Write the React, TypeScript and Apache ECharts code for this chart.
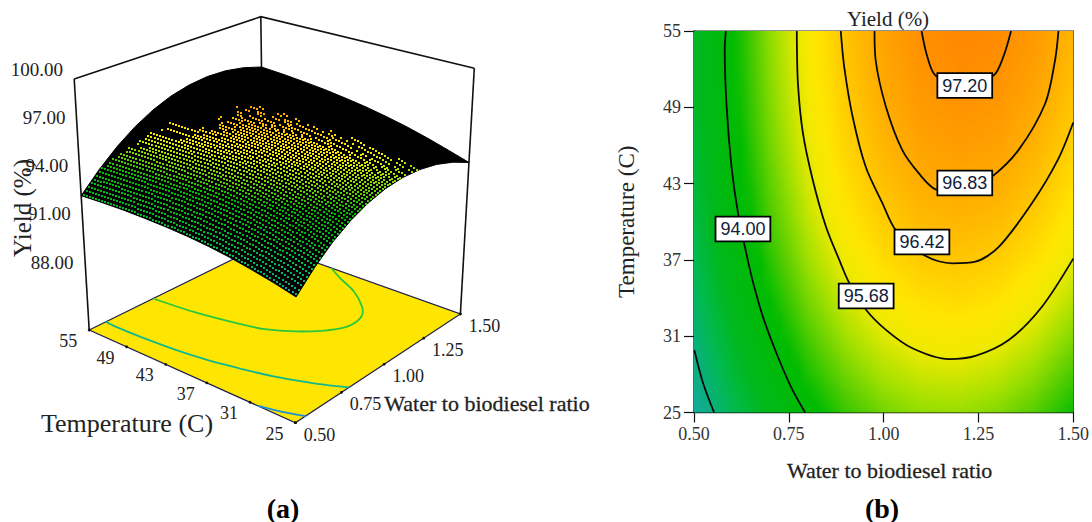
import React, { useEffect, useRef } from "react";
import * as echarts from "echarts";

// ---------- values ----------
const ratioNodes = [0.5, 0.6, 0.7, 0.8, 0.9, 1.0, 1.1, 1.2, 1.3, 1.4, 1.5];
const tempNodes = [25, 28, 31, 34, 37, 40, 43, 46, 49, 52, 55];
const yieldT25 = [91.42, 92.45, 93.32, 94.01, 94.54, 94.91, 95.11, 95.14, 95.01, 94.71, 94.25];
const yieldT28 = [91.74, 92.78, 93.65, 94.35, 94.89, 95.27, 95.47, 95.51, 95.39, 95.10, 94.64];
const yieldT31 = [92.02, 93.07, 93.95, 94.66, 95.21, 95.59, 95.81, 95.86, 95.74, 95.46, 95.01];
const yieldT34 = [92.28, 93.33, 94.22, 94.94, 95.50, 95.89, 96.11, 96.17, 96.06, 95.79, 95.35];
const yieldT37 = [92.49, 93.55, 94.45, 95.18, 95.74, 96.14, 96.37, 96.44, 96.34, 96.07, 95.64];
const yieldT40 = [92.66, 93.73, 94.64, 95.38, 95.95, 96.35, 96.60, 96.67, 96.58, 96.32, 95.90];
const yieldT43 = [92.79, 93.87, 94.78, 95.53, 96.11, 96.53, 96.78, 96.86, 96.78, 96.53, 96.11];
const yieldT46 = [92.89, 93.98, 94.90, 95.66, 96.25, 96.67, 96.93, 97.02, 96.95, 96.70, 96.30];
const yieldT49 = [92.97, 94.06, 94.99, 95.75, 96.35, 96.78, 97.05, 97.15, 97.08, 96.85, 96.45];
const yieldT52 = [93.01, 94.11, 95.05, 95.82, 96.43, 96.87, 97.14, 97.25, 97.19, 96.97, 96.58];
const yieldT55 = [93.03, 94.14, 95.09, 95.87, 96.48, 96.93, 97.21, 97.33, 97.28, 97.06, 96.68];
const yieldRows = [yieldT25, yieldT28, yieldT31, yieldT34, yieldT37, yieldT40, yieldT43, yieldT46, yieldT49, yieldT52, yieldT55];

const contour92 = [[0.501, 29.9], [0.524, 27.3], [0.553, 25]];
const contour94 = [[0.584, 55], [0.581, 53.6], [0.586, 49.05], [0.599, 44.3], [0.616, 40.7], [0.638, 37.5], [0.656, 35.2], [0.682, 32.5], [0.717, 29.7], [0.756, 27.0], [0.793, 25]];
const contour9568 = [[0.771, 55], [0.774, 50.9], [0.787, 47], [0.813, 43.3], [0.848, 39.6], [0.883, 37.0], [0.909, 35.2], [0.953, 33.1], [1.006, 31.5], [1.076, 30.05], [1.172, 29.2], [1.242, 29.45], [1.33, 30.7], [1.417, 33.3], [1.5, 37.1]];
const contour9642 = [[0.887, 55], [0.896, 52.2], [0.918, 48.3], [0.953, 44.3], [0.997, 41.45], [1.032, 39.35], [1.111, 37.3], [1.181, 36.73], [1.242, 36.86], [1.303, 38.0], [1.391, 41.45], [1.46, 44.9], [1.5, 47.8]];
const contour9683 = [[0.976, 55], [0.979, 52.7], [1.006, 49.05], [1.049, 45.65], [1.093, 43.8], [1.137, 42.55], [1.214, 42.3], [1.286, 43.55], [1.356, 45.65], [1.426, 49.3], [1.452, 52.7], [1.461, 55]];
const contour9720 = [[1.1, 55], [1.115, 53], [1.137, 51.5], [1.214, 50.7], [1.29, 51.5], [1.316, 53], [1.336, 55]];
const floorContourUpper = [[0.835, 55], [0.855, 49], [0.895, 43], [0.925, 40], [0.985, 37], [1.06, 34.6], [1.12, 33.4], [1.18, 33.1], [1.25, 33.6], [1.31, 35], [1.39, 38], [1.45, 41.5], [1.5, 44]];
const contourLabels = [[1.214, 50.71, "97.20"], [1.214, 43.05, "96.83"], [1.101, 38.41, "96.42"], [0.954, 34.16, "95.68"], [0.629, 39.43, "94.00"]];

const ratioTicks = [0.5, 0.75, 1.0, 1.25, 1.5];
const tempTicks = [25, 31, 37, 43, 49, 55];
const yieldTicks = ["100.00", "97.00", "94.00", "91.00", "88.00"];

// colour scale of the yield
const scaleValues = [91.4, 92, 92.5, 93.2, 94.2, 94.7, 95.2, 95.7, 96.0, 96.42, 96.83, 97.2, 97.4];
const scaleColors = ["#16a9a0", "#08b078", "#00ba50", "#00b81c", "#00bb00", "#50cc00", "#a0e000", "#f0ea00", "#ffe600", "#ffc800", "#ffaa00", "#ff9000", "#ff8200"];

// ---------- layout of the 3D box (pixels) ----------
const FONT = '"Liberation Serif", serif';
const floorCorners = [[89.2, 330], [264, 244], [460.4, 314], [295.4, 422.7]];
const topCorners = [[74.2, 79], [260.8, 16.7], [474.3, 68.3], [297, 129]];
const Z_MIN = 85;
const Z_MAX = 100;
const MESH = 7;

const rgb = (h: string) => [1, 3, 5].map((i) => parseInt(h.slice(i, i + 2), 16));
function colourOf(v: number) {
  let i = 0;
  if (v <= scaleValues[0]) return scaleColors[0];
  if (v >= scaleValues[scaleValues.length - 1]) return scaleColors[scaleColors.length - 1];
  while (v > scaleValues[i + 1]) i++;
  const f = (v - scaleValues[i]) / (scaleValues[i + 1] - scaleValues[i]);
  const a = rgb(scaleColors[i]);
  const b = rgb(scaleColors[i + 1]);
  return `rgb(${a.map((c, k) => Math.round(c + (b[k] - c) * f)).join(",")})`;
}

// shading between the table's nodes
function yieldAt(r: number, t: number) {
  const lastX = ratioNodes.length - 1;
  const lastT = tempNodes.length - 1;
  const fx = Math.min(Math.max((r - ratioNodes[0]) / 0.1, 0), lastX);
  const ft = Math.min(Math.max((t - tempNodes[0]) / 3, 0), lastT);
  const i = Math.min(Math.floor(fx), lastX - 1);
  const j = Math.min(Math.floor(ft), lastT - 1);
  const dx = fx - i;
  const dt = ft - j;
  const lo = yieldRows[j][i] * (1 - dx) + yieldRows[j][i + 1] * dx;
  const hi = yieldRows[j + 1][i] * (1 - dx) + yieldRows[j + 1][i + 1] * dx;
  return lo * (1 - dt) + hi * dt;
}

function homography(c: number[][]) {
  const [[x0, y0], [x1, y1], [x2, y2], [x3, y3]] = c;
  const dx1 = x1 - x2, dx2 = x3 - x2, sx = x0 - x1 + x2 - x3;
  const dy1 = y1 - y2, dy2 = y3 - y2, sy = y0 - y1 + y2 - y3;
  const den = dx1 * dy2 - dx2 * dy1;
  const g = (sx * dy2 - dx2 * sy) / den;
  const h = (dx1 * sy - sx * dy1) / den;
  const a = x1 - x0 + g * x1, b = x3 - x0 + h * x3;
  const d = y1 - y0 + g * y1, e = y3 - y0 + h * y3;
  return (u: number, v: number) => {
    const w = g * u + h * v + 1;
    return [(a * u + b * v + x0) / w, (d * u + e * v + y0) / w];
  };
}
const floorMap = homography(floorCorners);
const topMap = homography(topCorners);
const project = (r: number, t: number, z: number) => {
  const u = r - 0.5;
  const v = (55 - t) / 30;
  const f = floorMap(u, v);
  const p = topMap(u, v);
  const k = (z - Z_MIN) / (Z_MAX - Z_MIN);
  return [f[0] + (p[0] - f[0]) * k, f[1] + (p[1] - f[1]) * k];
};
const onFloor = (r: number, t: number) => project(r, t, Z_MIN);
const onSurface = (r: number, t: number) => project(r, t, yieldAt(r, t));

const boxBack = (): any[] => {
  const line = { stroke: "#111", lineWidth: 1.6, fill: "none" };
  const vert = (i: number) => ({ type: "polyline", shape: { points: [topCorners[i], floorCorners[i]] }, style: line });
  return [
    { type: "polyline", shape: { points: [topCorners[0], topCorners[1], topCorners[2]] }, style: line },
    vert(0), vert(1), vert(2),
  ];
};

const floorPart = (): any[] => {
  const parts: any[] = [
    { type: "polygon", shape: { points: floorCorners }, style: { fill: "#ffe600", stroke: "#1c1c50", lineWidth: 1.2 } },
  ];
  const curves: [number[][], string][] = [[contour92, "#1c90d8"], [contour94, "#12b88c"], [floorContourUpper, "#28c83c"]];
  curves.forEach(([c, col]) =>
    parts.push({
      type: "polyline",
      shape: { points: c.map(([r, t]) => onFloor(r, t)), smooth: 0.3 },
      style: { stroke: col, lineWidth: 1.8, fill: "none" },
    }),
  );
  ratioTicks.forEach((r) => {
    const p = onFloor(r, 25);
    parts.push({ type: "circle", shape: { cx: p[0], cy: p[1], r: 1.4 }, style: { fill: "#111" } });
  });
  tempTicks.forEach((t) => {
    const p = onFloor(0.5, t);
    parts.push({ type: "circle", shape: { cx: p[0], cy: p[1], r: 1.4 }, style: { fill: "#111" } });
  });
  return parts;
};

const clamp01 = (a: number) => Math.min(1, Math.max(0, a));

// black sheet of the surface, its outline taken from the table
const surfaceSheet = () => {
  const pts: number[][] = [];
  ratioNodes.forEach((r) => pts.push(onSurface(r, 55)));
  [...tempNodes].reverse().forEach((t) => pts.push(onSurface(1.5, t)));
  [...ratioNodes].reverse().forEach((r) => pts.push(onSurface(r, 25)));
  tempNodes.forEach((t) => pts.push(onSurface(0.5, t)));
  return { type: "polygon", shape: { points: pts }, style: { fill: "#000", stroke: "#000", lineWidth: 1 } };
};

// The black wire mesh leaves a hole only where a cell, rounded to whole pixels, stays open.
const surfaceBand = (params: any) => {
  const j = tempNodes.length - 2 - params.dataIndex;
  const children: any[] = params.dataIndex === 0 ? [surfaceSheet()] : [];
  const cols = (ratioNodes.length - 1) * MESH;
  for (let b = MESH - 1; b >= 0; b--) {
    const t0 = tempNodes[j] + (3 * b) / MESH;
    const t1 = tempNodes[j] + (3 * (b + 1)) / MESH;
    for (let c = cols - 1; c >= 0; c--) {
      const r0 = 0.5 + c / cols;
      const r1 = 0.5 + (c + 1) / cols;
      const q = [onSurface(r0, t0), onSurface(r1, t0), onSurface(r1, t1), onSurface(r0, t1)].map((p) => [Math.round(p[0]), Math.round(p[1])]);
      let area = 0;
      q.forEach((p, i) => {
        const n = q[(i + 1) % 4];
        area += p[0] * n[1] - n[0] * p[1];
      });
      area = Math.abs(area) / 2;
      const u = (r0 + r1) / 2 - 0.5;
      const v = (55 - (t0 + t1) / 2) / 30;
      const k = clamp01((u - 0.1) / 0.3);
      const bandV = 0.12 * k;
      const bandU = 0.13 + 0.15 * (1 - v);
      const depthV = k === 0 ? 1 : (v - bandV) / (0.4 * k);
      const depth = Math.min(depthV, (1 - u - bandU) / 0.4);
      if (depth <= 0) continue;
      const need = 6 + 5 * (1 - clamp01(depth));
      if (area < need) continue;
      const cx = Math.round((q[0][0] + q[1][0] + q[2][0] + q[3][0]) / 4);
      const cy = Math.round((q[0][1] + q[1][1] + q[2][1] + q[3][1]) / 4);
      children.push({
        type: "rect",
        shape: { x: cx - 1, y: cy - 1, width: 2, height: 2 },
        style: { fill: colourOf(yieldAt((r0 + r1) / 2, (t0 + t1) / 2)) },
      });
    }
  }
  return { type: "group", children };
};

// right panel: horizontal gradient strips built from the table
const heatBand = (params: any, api: any) => {
  const j = params.dataIndex;
  const children: any[] = [];
  const left = api.coord([0.5, 25])[0];
  const right = api.coord([1.5, 25])[0];
  const strips = 12;
  for (let s = 0; s < strips; s++) {
    const t0 = tempNodes[j] + (3 * s) / strips;
    const t1 = tempNodes[j] + (3 * (s + 1)) / strips;
    const yTop = api.coord([0.5, t1])[1];
    const yBot = api.coord([0.5, t0])[1];
    const stops: any[] = [];
    for (let k = 0; k <= 40; k++) {
      stops.push({ offset: k / 40, color: colourOf(yieldAt(0.5 + k / 40, (t0 + t1) / 2)) });
    }
    children.push({
      type: "rect",
      shape: { x: left, y: yTop, width: right - left, height: yBot - yTop + 0.8 },
      style: { fill: new echarts.graphic.LinearGradient(0, 0, 1, 0, stops) },
    });
  }
  return { type: "group", children };
};

const contourSeries = (data: number[][]) => ({
  type: "line",
  data,
  smooth: 0.3,
  showSymbol: false,
  symbol: "none",
  silent: true,
  z: 5,
  lineStyle: { color: "#0a0a0a", width: 1.8 },
});

const txt = (text: string, x: number, y: number, fontSize: number, extra: any = {}) => ({
  type: "text",
  x,
  y,
  silent: true,
  z: 20,
  style: { text, fontFamily: FONT, fontSize, fill: "#222", textAlign: "center", textVerticalAlign: "middle", ...extra },
});

const graphics = (): any[] => [
  ...yieldTicks.map((s, i) => txt(s, 63 + i * 2.6, 69 + i * 48.25, 19, { textAlign: "right" })),
  { ...txt("Yield (%)", 22, 208, 25), rotation: Math.PI / 2 },
  txt("Temperature (C)", 127, 423, 26),
  txt("Water to biodiesel ratio", 487, 403, 22, { stroke: "#222", lineWidth: 0.3 }),
  ...tempTicks.map((t) => {
    const p = onFloor(0.5, t);
    return txt(String(t), p[0] - 21, p[1] + 11, 18);
  }),
  ...ratioTicks.map((r) => {
    const p = onFloor(r, 25);
    return txt(r.toFixed(2), p[0] + 24, p[1] + 12, 18);
  }),
  txt("(a)", 283, 508, 28, { fontWeight: "bold", fill: "#000" }),
  txt("(b)", 882, 508, 28, { fontWeight: "bold", fill: "#000" }),
];

export default function App() {
  const ref = useRef<HTMLDivElement>(null);
  useEffect(() => {
    document.body.style.margin = "0";
    const chart = echarts.init(ref.current!, undefined, { renderer: "svg" });
    chart.setOption({
      animation: false,
      backgroundColor: "#fff",
      title: {
        text: "Yield (%)",
        left: 883,
        top: 3,
        textAlign: "center",
        textStyle: { fontFamily: FONT, fontSize: 21, fontWeight: "normal", color: "#222" },
      },
      grid: { left: 694, top: 31, width: 381, height: 381.5, show: true, borderColor: "#223", borderWidth: 1.2, backgroundColor: "transparent" },
      xAxis: {
        type: "value",
        min: 0.5,
        max: 1.5,
        interval: 0.25,
        splitLine: { show: false },
        axisLine: { onZero: false, lineStyle: { color: "#111", width: 1.4 } },
        axisTick: { length: 10, lineStyle: { color: "#111", width: 1.2 } },
        axisLabel: { formatter: (v: number) => v.toFixed(2), fontFamily: FONT, fontSize: 18, color: "#333", margin: 12 },
        name: "Water to biodiesel ratio",
        nameLocation: "middle",
        nameGap: 47,
        nameTextStyle: { fontFamily: FONT, fontSize: 22, color: "#222", textBorderColor: "#222", textBorderWidth: 0.3, padding: [0, 0, 0, 12] },
      },
      yAxis: {
        type: "value",
        min: 25,
        max: 55,
        splitLine: { show: false },
        axisLine: { onZero: false, lineStyle: { color: "#111", width: 1.4 } },
        axisTick: { length: 10, customValues: tempTicks, lineStyle: { color: "#111", width: 1.2 } },
        axisLabel: { customValues: tempTicks, fontFamily: FONT, fontSize: 18, color: "#333", margin: 13 },
        name: "Temperature (C)",
        nameLocation: "middle",
        nameGap: 56,
        nameTextStyle: { fontFamily: FONT, fontSize: 23, color: "#222" },
      },
      graphic: { elements: graphics() },
      series: [
        {
          type: "custom",
          coordinateSystem: "cartesian2d",
          data: tempNodes.slice(0, -1).map((t) => [0.5, t]),
          renderItem: heatBand,
          clip: true,
          silent: true,
          z: 1,
        },
        contourSeries(contour92),
        contourSeries(contour94),
        contourSeries(contour9568),
        contourSeries(contour9642),
        contourSeries(contour9683),
        contourSeries(contour9720),
        {
          type: "scatter",
          data: contourLabels,
          symbolSize: 1,
          silent: true,
          z: 8,
          itemStyle: { color: "#000", opacity: 1 },
          label: {
            show: true,
            position: "inside",
            formatter: (p: any) => p.value[2],
            fontFamily: '"Liberation Sans", sans-serif',
            fontSize: 18,
            opacity: 1,
            color: "#102038",
            backgroundColor: "#fff",
            borderColor: "#000",
            borderWidth: 1.8,
            padding: [3, 4, 2, 4],
          },
        },
        {
          type: "custom",
          coordinateSystem: "none",
          data: [[0]],
          renderItem: () => ({ type: "group", children: [...boxBack(), ...floorPart()] }),
          silent: true,
          z: 2,
        },
        {
          type: "custom",
          coordinateSystem: "none",
          data: tempNodes.slice(0, -1).map((t) => [t]),
          renderItem: surfaceBand,
          silent: true,
          z: 3,
        },
      ],
    });
    return () => chart.dispose();
  }, []);
  return <div ref={ref} style={{ width: 1092, height: 522, position: "absolute", left: 0, top: 0 }} />;
}
